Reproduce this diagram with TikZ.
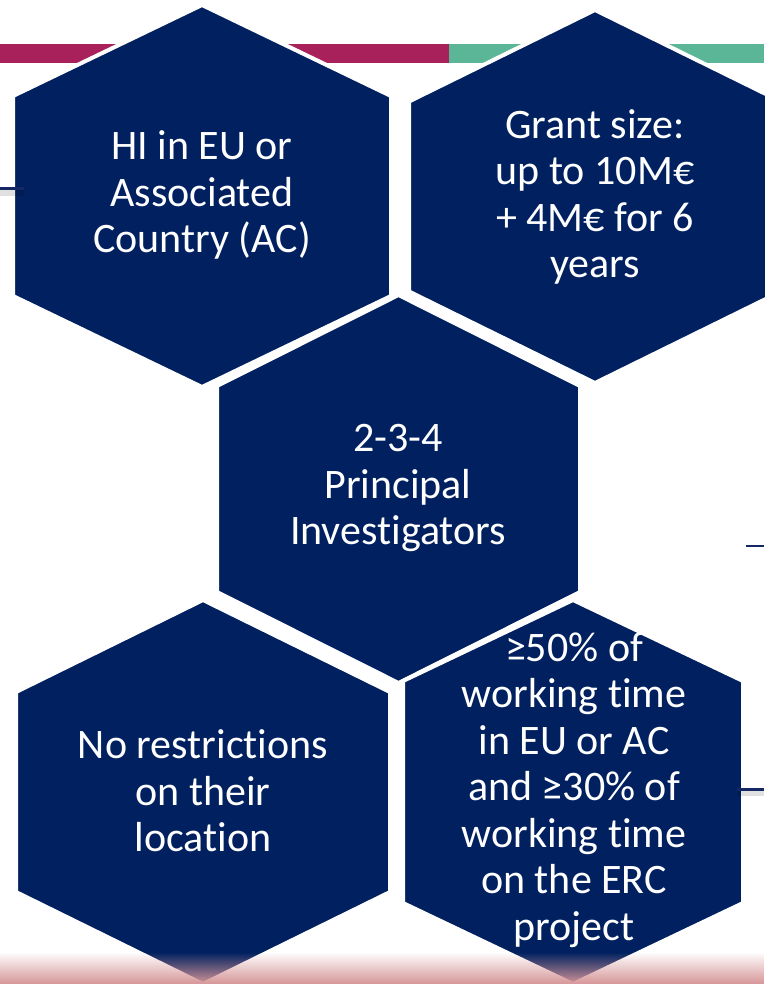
\documentclass[tikz,border=0pt]{standalone}
\usepackage{fontspec}
\setmainfont{Carlito}[Ligatures={NoCommon}]
\usetikzlibrary{fadings}
\definecolor{navy}{RGB}{0,32,96}
\definecolor{magentac}{RGB}{168,33,90}
\definecolor{greenc}{RGB}{91,181,151}
\definecolor{pinkc}{RGB}{214,150,152}
\definecolor{linec}{RGB}{20,40,100}
\newcommand\hexpath[5]{(#1,#2-#4) -- (#1+#3,#2-#5) -- (#1+#3,#2+#5) -- (#1,#2+#4) -- (#1-#3,#2+#5) -- (#1-#3,#2-#5) -- cycle}
\begin{document}
\begin{tikzpicture}[x=1pt,y=-1pt,
  hexa/.style={fill=navy,draw=white,line width=4pt,line join=miter},
  txt/.style={text=white,align=center,inner sep=0pt,font=\fontsize{42}{46.5}\selectfont},
  sideline/.style={draw=linec,line width=3pt},
  shadowline/.style={draw=black,draw opacity=0.12,line width=6pt}]
\useasboundingbox (0,0) rectangle (764,984);
\fill[white] (0,0) rectangle (764,984);
% top strips
\fill[magentac] (0,44) rectangle (449,63);
\fill[greenc] (449,44) rectangle (764,63);
% hexagons
\filldraw[hexa] \hexpath{202}{196}{189}{191}{100};
\filldraw[hexa] \hexpath{595}{196.5}{186}{186.5}{95};
\filldraw[hexa] \hexpath{398.5}{489}{181.5}{194}{103};
\filldraw[hexa] \hexpath{203}{792}{187}{192}{100};
\filldraw[hexa] \hexpath{573}{792}{170}{192}{111};
% side lines
\coordinate (l1a) at (0,189);
\coordinate (l1b) at (24,189);
\coordinate (l2a) at (737,789);
\coordinate (l2b) at (764,789);
\coordinate (l3a) at (746,546);
\coordinate (l3b) at (764,546);
\draw[shadowline] ([yshift=-4pt]l1a) -- ([yshift=-4pt]l1b);
\draw[sideline] (l1a) -- (l1b);
\draw[shadowline] ([yshift=-4pt]l2a) -- ([yshift=-4pt]l2b);
\draw[sideline] (l2a) -- (l2b);
\draw[sideline,line width=2pt] (l3a) -- (l3b);
% texts
\node[txt] (t1) at (202,195) {HI in EU or\\Associated\\Country (AC)};
\node[txt] (t2) at (595,197) {Grant size:\\up to 10M€\\+ 4M€ for 6\\years};
\node[txt] (t3) at (398,488) {2-3-4\\Principal\\Investigators};
\node[txt] (t4) at (203,791) {No restrictions\\on their\\location};
\node[txt] (t5) at (574,790) {≥50\% of\\working time\\in EU or AC\\and ≥30\% of\\working time\\on the ERC\\project};
% bottom gradient
\fill[pinkc,path fading=north] (0,952) rectangle (764,984);
\end{tikzpicture}
\end{document}
